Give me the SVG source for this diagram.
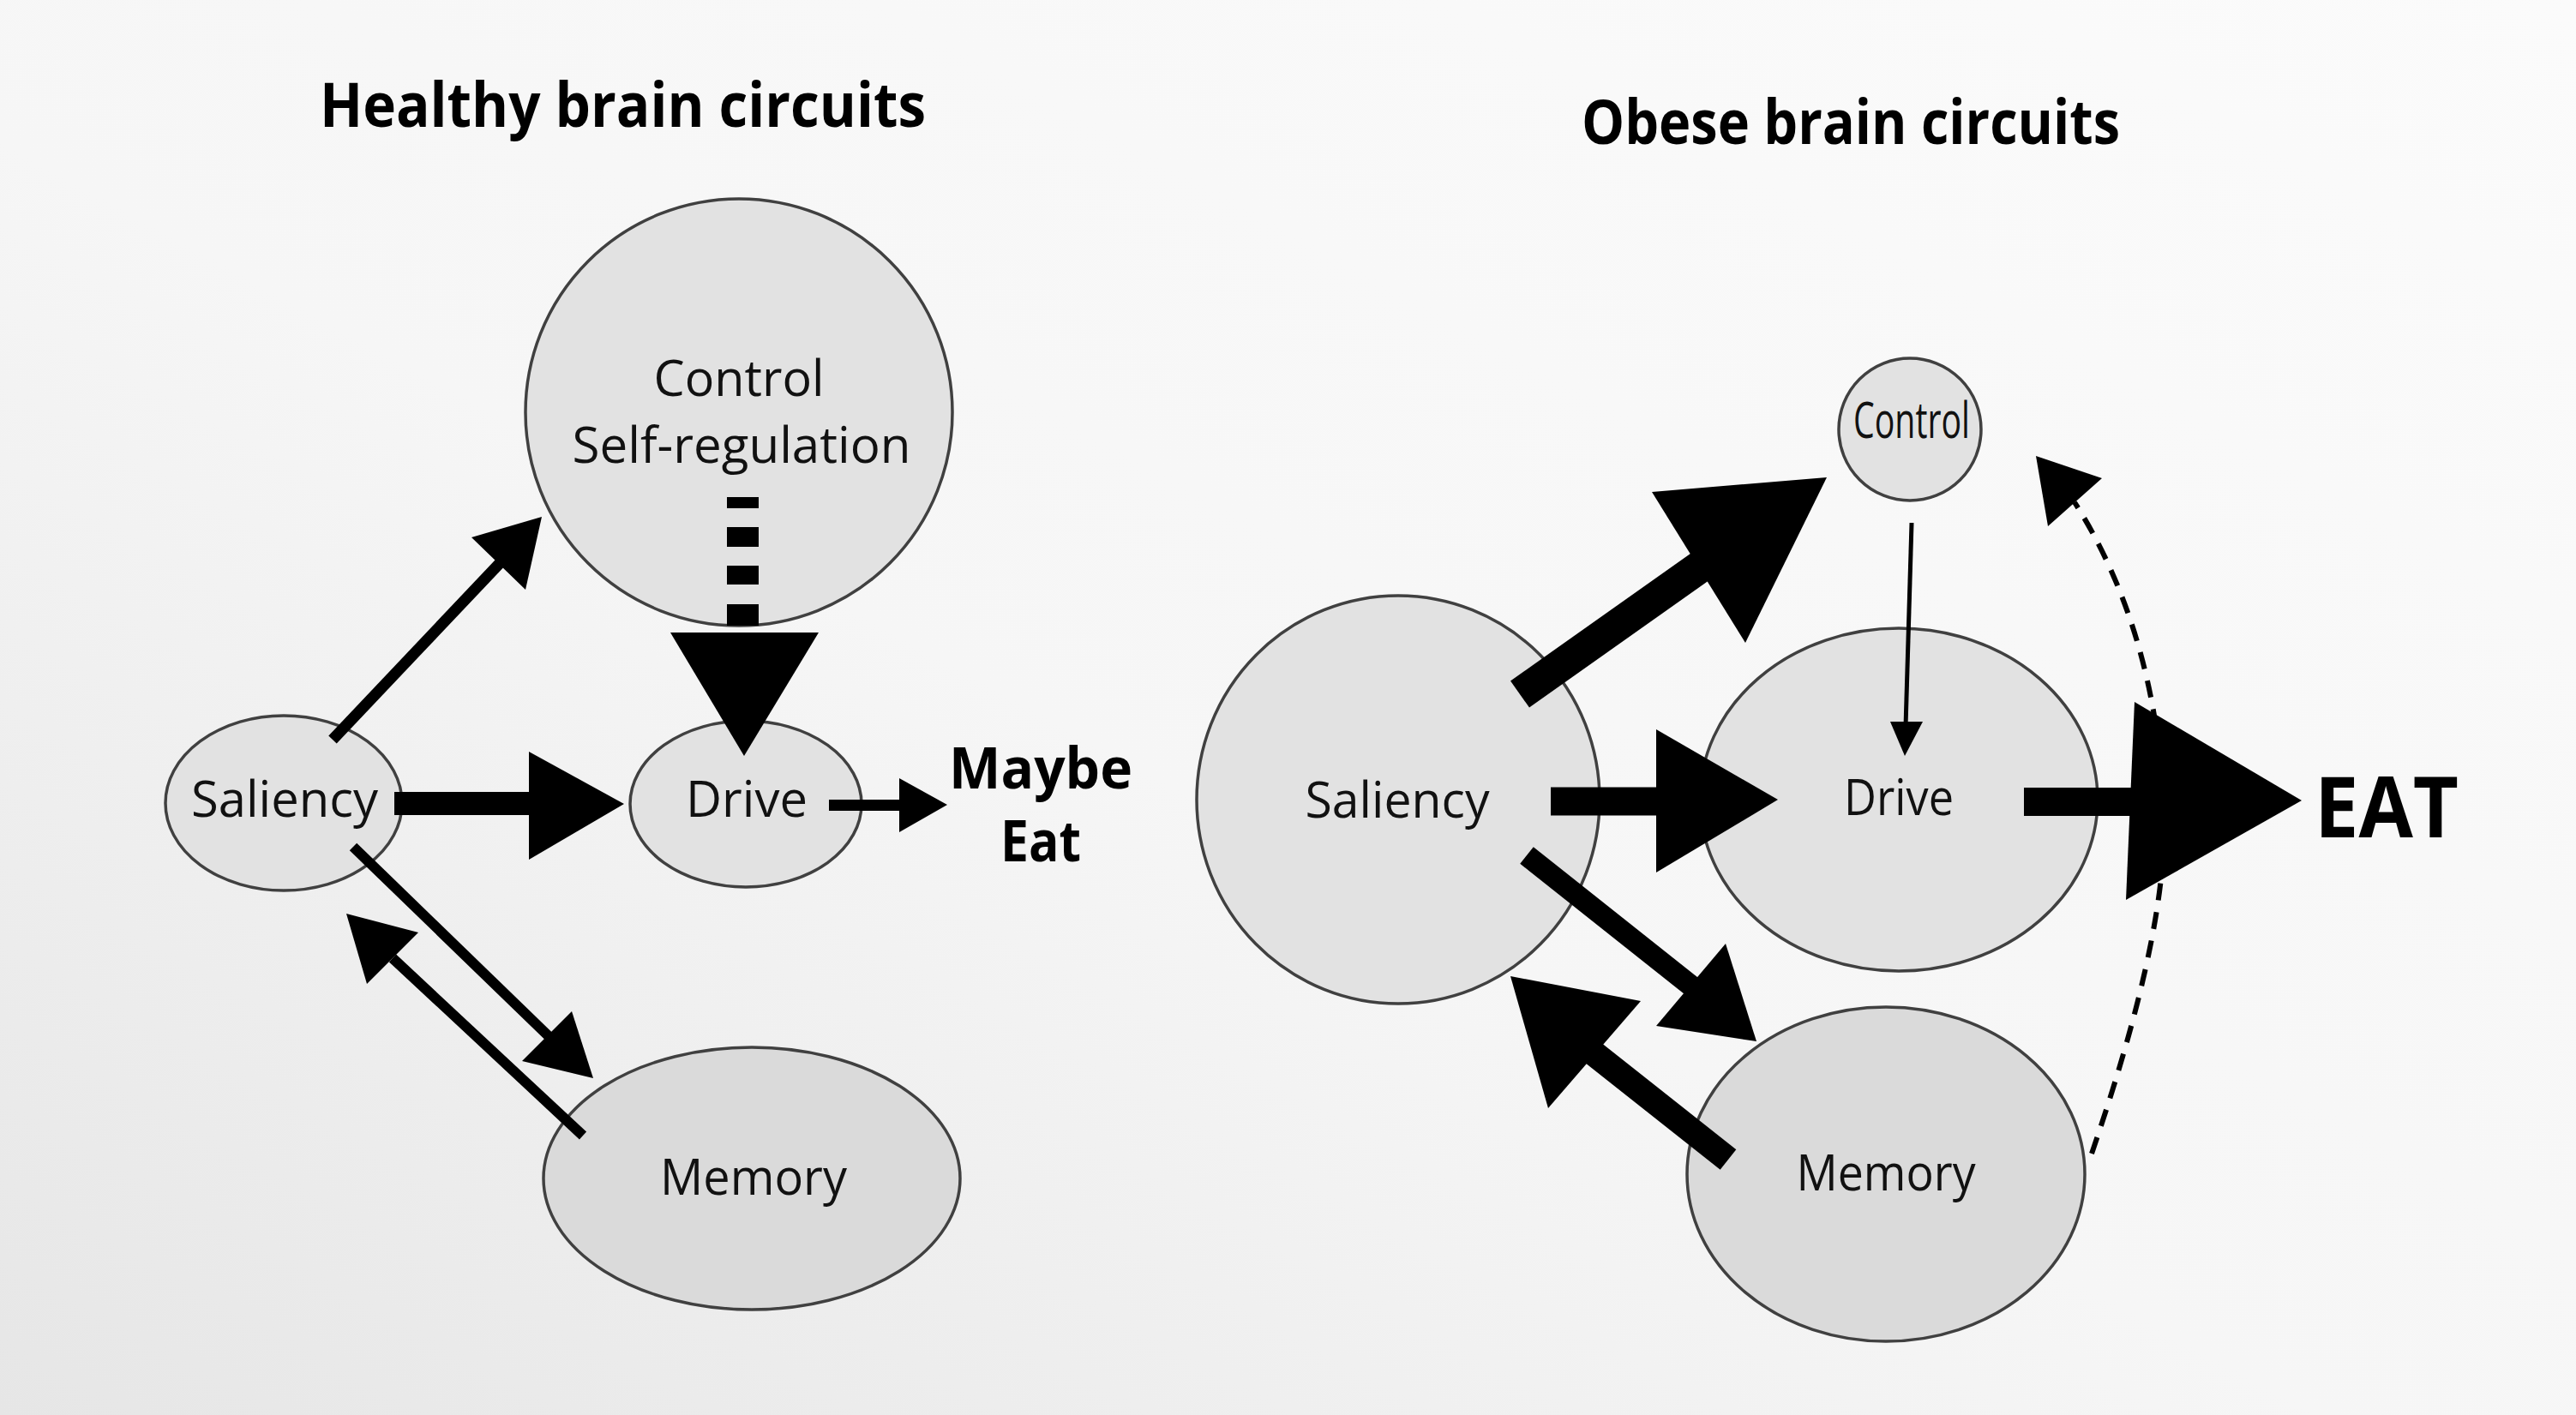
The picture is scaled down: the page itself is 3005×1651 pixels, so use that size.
<svg xmlns="http://www.w3.org/2000/svg" width="3005" height="1651" viewBox="0 0 3005 1651">
<style>
.node{fill:#e2e2e2;stroke:#404040;stroke-width:3.5}
.node.mem{fill:#dadada}
.lbl{font-family:"Open Sans","Liberation Sans",sans-serif;font-weight:500;font-size:58px;fill:#111;text-anchor:middle}
.ttl{font-family:"Open Sans","Liberation Sans",sans-serif;font-weight:bold;font-size:72px;fill:#000}
.bold{font-family:"Open Sans","Liberation Sans",sans-serif;font-weight:bold;fill:#000;text-anchor:middle}
.shaft{stroke:#000;fill:none;stroke-linecap:butt}
.head{fill:#000}
</style>
<defs>
<linearGradient id="bg" x1="1" y1="0" x2="0" y2="1">
<stop offset="0" stop-color="#fbfbfb"/>
<stop offset="0.55" stop-color="#f6f6f6"/>
<stop offset="1" stop-color="#e6e6e6"/>
</linearGradient>
</defs>
<rect x="0" y="0" width="3005" height="1651" fill="url(#bg)"/>

<text class="ttl" x="373" y="148" textLength="707" lengthAdjust="spacingAndGlyphs">Healthy brain circuits</text>
<text class="ttl" x="1845" y="168" textLength="628" lengthAdjust="spacingAndGlyphs">Obese brain circuits</text>

<g id="left-control"><circle class="node" cx="862" cy="481" r="249" fill="#e6e6e6"/>
<text class="lbl" x="862" y="462" font-size="61" textLength="199" lengthAdjust="spacingAndGlyphs">Control</text>
<text class="lbl" x="865" y="540" font-size="61" textLength="395" lengthAdjust="spacingAndGlyphs">Self-regulation</text></g>
<g id="left-saliency"><ellipse class="node" cx="331" cy="937" rx="138" ry="102"/>
<text class="lbl" x="332" y="953" textLength="218" lengthAdjust="spacingAndGlyphs">Saliency</text></g>
<g id="left-drive"><ellipse class="node" cx="870" cy="938" rx="135" ry="97"/>
<text class="lbl" x="871" y="953" textLength="142" lengthAdjust="spacingAndGlyphs">Drive</text></g>
<g id="left-memory"><ellipse class="node mem" cx="877" cy="1375" rx="243" ry="153"/>
<text class="lbl" x="879" y="1394" textLength="218" lengthAdjust="spacingAndGlyphs">Memory</text></g>
<g id="left-maybe-eat">
<text class="bold" x="1214" y="920" font-size="66" textLength="214" lengthAdjust="spacingAndGlyphs">Maybe</text>
<text class="bold" x="1214" y="1005" font-size="66" textLength="94" lengthAdjust="spacingAndGlyphs">Eat</text></g>

<g id="right-control"><circle class="node" cx="2228" cy="501" r="83" fill="#e6e6e6"/>
<text class="lbl" x="2230" y="511" font-size="36" textLength="136" lengthAdjust="spacingAndGlyphs">Control</text></g>
<g id="right-saliency"><ellipse class="node" cx="1631" cy="933" rx="235" ry="238"/>
<text class="lbl" x="1630" y="954" textLength="215" lengthAdjust="spacingAndGlyphs">Saliency</text></g>
<g id="right-drive"><ellipse class="node" cx="2215" cy="933" rx="232" ry="200"/>
<text class="lbl" x="2215" y="951" textLength="128" lengthAdjust="spacingAndGlyphs">Drive</text></g>
<g id="right-memory"><ellipse class="node mem" cx="2200" cy="1370" rx="232" ry="195"/>
<text class="lbl" x="2200" y="1389" textLength="209" lengthAdjust="spacingAndGlyphs">Memory</text></g>
<g id="right-eat"><text class="bold" x="2784" y="977" font-size="98" textLength="168" lengthAdjust="spacingAndGlyphs">EAT</text></g>

<g id="connectors">
<!-- left: saliency -> control -->
<line class="shaft" x1="388" y1="863" x2="585" y2="655" stroke-width="13"/>
<polygon class="head" points="632,603 550,627 613,688"/>
<!-- left: saliency -> drive -->
<line class="shaft" x1="460" y1="937.5" x2="620" y2="937.5" stroke-width="27"/>
<polygon class="head" points="617,877 728,938 617,1003"/>
<!-- left: drive -> maybe eat -->
<line class="shaft" x1="967" y1="939.5" x2="1052" y2="939.5" stroke-width="13"/>
<polygon class="head" points="1049,908 1105,939 1049,971"/>
<!-- left: control -> drive (dashed thick) -->
<rect x="848" y="580" width="37" height="13" fill="#000"/>
<rect x="848" y="615" width="37" height="23" fill="#000"/>
<rect x="848" y="660" width="37" height="22" fill="#000"/>
<rect x="848" y="705" width="37" height="25" fill="#000"/>
<polygon class="head" points="782,738 955,738 868,882"/>
<!-- left: saliency -> memory -->
<line class="shaft" x1="412" y1="988" x2="640" y2="1209" stroke-width="12"/>
<polygon class="head" points="692,1258 609,1238 667,1180"/>
<!-- left: memory -> saliency -->
<line class="shaft" x1="680" y1="1325" x2="458" y2="1118" stroke-width="12"/>
<polygon class="head" points="404,1066 488,1088 428,1148"/>

<!-- right: saliency -> control -->
<line class="shaft" x1="1773" y1="810" x2="1985" y2="660" stroke-width="38"/>
<polygon class="head" points="2131,557 1927,574 2036,750"/>
<!-- right: saliency -> drive -->
<line class="shaft" x1="1809" y1="935" x2="1935" y2="935" stroke-width="33"/>
<polygon class="head" points="1932,851 2074,933 1932,1018"/>
<!-- right: drive -> eat -->
<line class="shaft" x1="2361" y1="935.5" x2="2490" y2="935.5" stroke-width="33"/>
<polygon class="head" points="2490,819 2685,934 2480,1050"/>
<!-- right: control -> drive (thin) -->
<line class="shaft" x1="2230" y1="610" x2="2223" y2="848" stroke-width="5"/>
<polygon class="head" points="2205,842 2243,842 2222,882"/>
<!-- right: saliency -> memory -->
<line class="shaft" x1="1781" y1="998" x2="1975" y2="1152" stroke-width="25"/>
<polygon class="head" points="2049,1215 1932,1197 2013,1101"/>
<!-- right: memory -> saliency -->
<line class="shaft" x1="2016" y1="1353" x2="1858" y2="1228" stroke-width="30"/>
<polygon class="head" points="1762,1139 1914,1168 1806,1293"/>
<!-- right: memory -> control (dashed curve) -->
<path d="M2440,1346 C2490,1200 2530,1050 2524,940 C2518,800 2480,680 2420,586" fill="none" stroke="#000" stroke-width="6" stroke-dasharray="20 14"/>
<polygon class="head" points="2375,532 2452,558 2389,614"/>
</g>
</svg>
